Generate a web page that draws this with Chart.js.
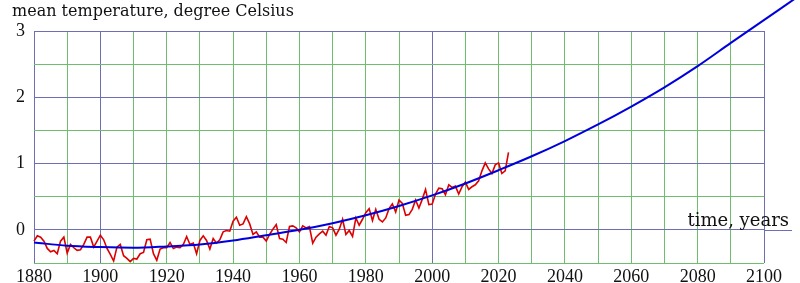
<!DOCTYPE html>
<html>
<head>
<meta charset="utf-8">
<script src="https://cdn.jsdelivr.net/npm/chart.js@4/dist/chart.umd.min.js"></script>
<style>
  body { margin: 0; background: #fff; }
  #wrap { width: 800px; height: 283px; }
</style>
</head>
<body>
<div id="wrap"><canvas id="tempChart" width="800" height="283"></canvas></div>
<script>
// annual mean temperature anomaly
const years = [];
for (let y = 1880; y <= 2023; y++) years.push(y);
const anomaly = [
  -0.17, -0.09, -0.11, -0.17, -0.28, -0.33, -0.31, -0.36, -0.17, -0.11,
  -0.35, -0.22, -0.27, -0.31, -0.30, -0.22, -0.11, -0.11, -0.26, -0.17,
  -0.08, -0.15, -0.28, -0.37, -0.47, -0.26, -0.22, -0.39, -0.43, -0.48,
  -0.43, -0.44, -0.36, -0.34, -0.15, -0.14, -0.36, -0.46, -0.29, -0.27,
  -0.27, -0.19, -0.28, -0.26, -0.27, -0.22, -0.10, -0.22, -0.20, -0.36,
  -0.16, -0.09, -0.16, -0.29, -0.13, -0.20, -0.15, -0.03, -0.01, -0.02,
  0.13, 0.19, 0.07, 0.09, 0.20, 0.09, -0.07, -0.03, -0.11, -0.11,
  -0.17, -0.07, 0.01, 0.08, -0.13, -0.14, -0.19, 0.05, 0.06, 0.03,
  -0.03, 0.06, 0.03, 0.05, -0.20, -0.11, -0.06, -0.02, -0.08, 0.05,
  0.03, -0.08, 0.01, 0.16, -0.07, -0.01, -0.10, 0.18, 0.07, 0.16,
  0.26, 0.32, 0.14, 0.31, 0.16, 0.12, 0.18, 0.32, 0.39, 0.27,
  0.45, 0.40, 0.22, 0.23, 0.31, 0.45, 0.33, 0.46, 0.61, 0.38,
  0.39, 0.54, 0.63, 0.62, 0.53, 0.68, 0.64, 0.66, 0.54, 0.65,
  0.72, 0.61, 0.65, 0.68, 0.74, 0.89, 1.01, 0.92, 0.85, 0.98,
  1.01, 0.85, 0.89, 1.17
];

// trend curve (last point sits past the right edge)
const trendYears = [1880, 1890, 1900, 1910, 1920, 1930, 1940, 1950, 1960, 1970, 1980,
  1990, 2000, 2010, 2020, 2030, 2040, 2050, 2060, 2070, 2080, 2090, 2112];
const trendValues = [-0.19, -0.24, -0.26, -0.27, -0.25, -0.22, -0.16, -0.08, 0.0, 0.1, 0.22,
  0.36, 0.52, 0.70, 0.90, 1.11, 1.34, 1.59, 1.86, 2.15, 2.47, 2.82, 3.58];

const xTicks = [1880, 1900, 1920, 1940, 1960, 1980, 2000, 2020, 2040, 2060, 2080, 2100];
const yTicks = [0, 1, 2, 3];

const GREEN = 'rgb(110,190,110)';
const BLUE = 'rgb(110,110,180)';
const SERIF = '"Liberation Serif", "DejaVu Serif", serif';
const WIDE_SERIF = '"DejaVu Serif", serif';

const labelsPlugin = {
  id: 'labelsPlugin',
  beforeDatasetsDraw(chart) {
    const { ctx, chartArea, scales } = chart;
    const y0 = Math.round(scales.y.getPixelForValue(0)) + 0.5;
    ctx.save();
    ctx.strokeStyle = BLUE;
    ctx.lineWidth = 1;
    ctx.beginPath();
    ctx.moveTo(chartArea.right, y0);
    ctx.lineTo(792, y0);
    ctx.stroke();
    ctx.restore();
  },
  afterDraw(chart) {
    const { ctx, scales } = chart;
    ctx.save();
    ctx.fillStyle = '#111';
    ctx.textBaseline = 'alphabetic';
    ctx.font = '16px ' + WIDE_SERIF;
    ctx.textAlign = 'left';
    ctx.fillText('mean temperature, degree Celsius', 12, 16);
    ctx.font = '18px ' + WIDE_SERIF;
    ctx.textAlign = 'right';
    ctx.fillText('time, years', 789, scales.y.getPixelForValue(0) - 4);
    ctx.restore();
  }
};

new Chart(document.getElementById('tempChart'), {
  type: 'line',
  data: {
    datasets: [
      {
        label: 'trend',
        data: trendYears.map((x, i) => ({ x: x, y: trendValues[i] })),
        borderColor: '#0000dd',
        borderWidth: 2,
        pointRadius: 0,
        cubicInterpolationMode: 'monotone',
        clip: false
      },
      {
        label: 'annual',
        data: years.map((x, i) => ({ x: x, y: anomaly[i] })),
        borderColor: '#dd0000',
        borderWidth: 1.6,
        pointRadius: 0,
        tension: 0,
        clip: false
      }
    ]
  },
  options: {
    responsive: false,
    animation: false,
    layout: { padding: { top: 31, right: 36, left: 0, bottom: 0 } },
    plugins: {
      legend: { display: false },
      tooltip: { enabled: false }
    },
    scales: {
      x: {
        type: 'linear',
        min: 1880,
        max: 2100,
        afterFit: s => { s.height = 20; },
        afterBuildTicks: s => {
          const t = [];
          for (let v = 1880; v <= 2100; v += 10) t.push({ value: v });
          s.ticks = t;
        },
        ticks: {
          autoSkip: false,
          maxRotation: 0,
          padding: 3,
          color: '#111',
          font: { family: SERIF, size: 18 },
          callback: v => xTicks.includes(v) ? String(v) : ''
        },
        grid: {
          drawTicks: false,
          color: c => (c.tick && (c.tick.value % 100 === 0 || c.tick.value === 1880)) ? BLUE : GREEN
        },
        border: { display: false }
      },
      y: {
        type: 'linear',
        min: -0.5,
        max: 3,
        afterFit: s => { s.width = 34; },
        afterBuildTicks: s => {
          const t = [];
          for (let v = -0.5; v <= 3; v += 0.5) t.push({ value: v });
          s.ticks = t;
        },
        ticks: {
          autoSkip: false,
          padding: 9,
          color: '#111',
          font: { family: SERIF, size: 18 },
          callback: v => yTicks.includes(v) ? String(v) : ''
        },
        grid: {
          drawTicks: false,
          color: c => (c.tick && Number.isInteger(c.tick.value)) ? BLUE : GREEN
        },
        border: { display: false }
      }
    }
  },
  plugins: [labelsPlugin]
});
</script>
</body>
</html>
